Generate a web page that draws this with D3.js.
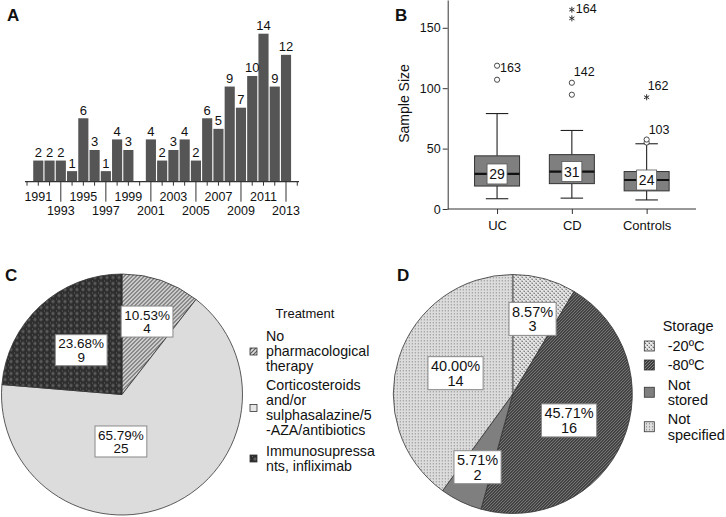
<!DOCTYPE html>
<html><head><meta charset="utf-8">
<script src="https://cdn.jsdelivr.net/npm/d3@7"></script>
<style>body{margin:0;background:#fff}svg{display:block;font-family:"Liberation Sans",Arial,sans-serif}</style>
</head><body><svg id="c" width="726" height="517"></svg>
<script>
// ---------- DATA ----------
// Panel A: publications per year
const yearsA = [1991,1992,1993,1994,1995,1996,1997,1998,1999,2000,2001,2002,2003,2004,2005,2006,2007,2008,2009,2010,2011,2012,2013];
const countsA = [2,2,2,1,6,3,1,4,3,0,4,2,3,4,2,6,5,9,7,10,14,9,12];
const yearLabelsRow1 = [1991,1995,1999,2003,2007,2011];
const yearLabelsRow2 = [1993,1997,2001,2005,2009,2013];

// Panel B: sample size box plots
const groupsB = ["UC","CD","Controls"];
const whiskLoB = [8.5,9,7.5];
const q1B = [19,21,15];
const medB = [29,31,24];
const q3B = [44,45,31];
const whiskHiB = [79,65,54];
const medLabelB = ["29","31","24"];
const outGroupB = ["UC","UC","CD","CD","CD","CD","Controls","Controls","Controls"];
const outValueB = [107,118.6,94.6,104.5,157.8,165,55,57.5,92.5];
const outTypeB  = ["o","o","o","o","*","*","o","o","*"];
const outLabelB = ["","163","","142","","164","","103","162"];
const yTicksB = [0,50,100,150];

// Panel C: treatment
const treatC = ["No pharmacological therapy","Corticosteroids and/or sulphasalazine/5-AZA/antibiotics","Immunosupressants, infliximab"];
const treatCLines = [["No","pharmacological","therapy"],["Corticosteroids","and/or","sulphasalazine/5","-AZA/antibiotics"],["Immunosupressa","nts, infliximab"]];
const countsC = [4,25,9];

// Panel D: storage
const storageD = ["-20ºC","-80ºC","Not stored","Not specified"];
const storageDLines = [["-20ºC"],["-80ºC"],["Not","stored"],["Not","specified"]];
const countsD = [3,16,2,14];

// ---------- DRAW ----------
const svg = d3.select("#c");
const TXT = "#111";
const defs = svg.append("defs");

function pat(id, w, h, build){
  const p = defs.append("pattern").attr("id",id).attr("patternUnits","userSpaceOnUse").attr("width",w).attr("height",h);
  build(p);
}
pat("hatchLight",4,4,p=>{
  p.append("rect").attr("width",4).attr("height",4).attr("fill","#dedede");
  p.append("path").attr("d","M-1,1L1,-1M0,4L4,0M3,5L5,3").attr("stroke","#555").attr("stroke-width",1.1);
});
pat("crossDark",6,6,p=>{
  p.append("rect").attr("width",6).attr("height",6).attr("fill","#2e2e2e");
  p.append("path").attr("d","M3,1L5,3L3,5L1,3Z").attr("fill","#5c5c5c");
  p.append("rect").attr("x",0).attr("y",0).attr("width",1).attr("height",1).attr("fill","#666");
});
pat("crossLight",4,4,p=>{
  p.append("rect").attr("width",4).attr("height",4).attr("fill","#c4c4c4");
  p.append("rect").attr("x",0).attr("y",0).attr("width",2).attr("height",2).attr("fill","#e8e8e8");
  p.append("rect").attr("x",2).attr("y",2).attr("width",2).attr("height",2).attr("fill","#e8e8e8");
  p.append("rect").attr("x",1).attr("y",3).attr("width",1).attr("height",1).attr("fill","#6a6a6a");
  p.append("rect").attr("x",3).attr("y",1).attr("width",1).attr("height",1).attr("fill","#6a6a6a");
});
pat("hatchDark",3,3,p=>{
  p.append("rect").attr("width",3).attr("height",3).attr("fill","#3e3e3e");
  p.append("path").attr("d","M-1,1L1,-1M0,3L3,0M2,4L4,2").attr("stroke","#8a8a8a").attr("stroke-width",0.9);
});
pat("dotsLight",3,3,p=>{
  p.append("rect").attr("width",3).attr("height",3).attr("fill","#dcdcdc");
  p.append("rect").attr("x",1).attr("y",0).attr("width",1).attr("height",1.5).attr("fill","#9a9a9a");
});

function letter(t,x,y){ svg.append("text").attr("x",x).attr("y",y).attr("font-size",17).attr("font-weight","bold").attr("fill",TXT).text(t); }
letter("A",7,21); letter("B",395,21); letter("C",5,281); letter("D",397,281);

// ---- Panel A ----
(function(){
  const axisYears = [1990, ...yearsA, 2014];
  const x = d3.scaleBand().domain(axisYears).range([21.4, 302.9]).paddingInner(0.1).paddingOuter(0.05);
  const y = d3.scaleLinear().domain([0,14]).range([181.7, 33.7]);
  const g = svg.append("g");
  const data = yearsA.map((yr,i)=>({yr, v:countsA[i]})).filter(d=>d.v>0);
  g.selectAll("rect.bar").data(data).join("rect").attr("class","bar")
    .attr("x",d=>x(d.yr)).attr("width",x.bandwidth())
    .attr("y",d=>y(d.v)).attr("height",d=>y(0)-y(d.v)).attr("fill","#555");
  g.selectAll("text.val").data(data).join("text").attr("class","val")
    .attr("x",d=>x(d.yr)+x.bandwidth()/2).attr("y",d=>y(d.v)-3.5)
    .attr("text-anchor","middle").attr("font-size",13).attr("fill",TXT).text(d=>d.v);
  g.append("line").attr("x1",25).attr("x2",299).attr("y1",y(0)).attr("y2",y(0)).attr("stroke","#333").attr("stroke-width",1.2);
  const cx = yr => x(yr)+x.bandwidth()/2;
  g.selectAll("line.tk").data(axisYears).join("line").attr("class","tk")
    .attr("x1",cx).attr("x2",cx).attr("y1",y(0)).attr("y2",d=>yearLabelsRow2.includes(d)? y(0)+20 : y(0)+4)
    .attr("stroke","#333").attr("stroke-width",1);
  g.selectAll("text.r1").data(yearLabelsRow1).join("text").attr("class","r1")
    .attr("x",cx).attr("y",200.5).attr("text-anchor","middle").attr("font-size",12.5).attr("fill",TXT).text(d=>d);
  g.selectAll("text.r2").data(yearLabelsRow2).join("text").attr("class","r2")
    .attr("x",cx).attr("y",214.5).attr("text-anchor","middle").attr("font-size",12.5).attr("fill",TXT).text(d=>d);
})();

// ---- Panel B ----
(function(){
  const y = d3.scaleLinear().domain([0,173]).range([209,0]);
  const x = d3.scalePoint().domain(groupsB).range([447.7,696]).padding(0.66);
  const g = svg.append("g");
  const ax = g.append("g").attr("transform","translate(447.7,0)")
    .call(d3.axisLeft(y).tickValues(yTicksB).tickSize(5).tickSizeOuter(0).tickPadding(2));
  ax.select(".domain").attr("stroke","#333");
  ax.selectAll(".tick line").attr("stroke","#333");
  ax.selectAll("text").attr("font-size",12.5).attr("fill",TXT).attr("font-family","Liberation Sans, Arial, sans-serif");
  const bx = g.append("g").attr("transform","translate(0,209)")
    .call(d3.axisBottom(x).tickSize(5).tickSizeOuter(0).tickPadding(7));
  bx.select(".domain").attr("stroke","#333").attr("d","M447.7,0H696");
  bx.selectAll(".tick line").attr("stroke","#333");
  bx.selectAll("text").attr("font-size",13).attr("fill",TXT).attr("font-family","Liberation Sans, Arial, sans-serif");
  g.append("text").attr("transform","translate(409,103.5) rotate(-90)").attr("text-anchor","middle")
    .attr("font-size",14).attr("fill",TXT).text("Sample Size");
  const bw = 45;
  groupsB.forEach((grp,i)=>{
    const c = x(grp);
    g.append("line").attr("x1",c).attr("x2",c).attr("y1",y(whiskHiB[i])).attr("y2",y(q3B[i])).attr("stroke","#222").attr("stroke-width",1.1);
    g.append("line").attr("x1",c).attr("x2",c).attr("y1",y(q1B[i])).attr("y2",y(whiskLoB[i])).attr("stroke","#222").attr("stroke-width",1.1);
    [whiskHiB[i], whiskLoB[i]].forEach(v=>g.append("line").attr("x1",c-bw/4).attr("x2",c+bw/4).attr("y1",y(v)).attr("y2",y(v)).attr("stroke","#222").attr("stroke-width",1.1));
    g.append("rect").attr("x",c-bw/2).attr("width",bw).attr("y",y(q3B[i])).attr("height",y(q1B[i])-y(q3B[i]))
      .attr("fill","#7f7f7f").attr("stroke","#333").attr("stroke-width",1);
    g.append("line").attr("x1",c-bw/2).attr("x2",c+bw/2).attr("y1",y(medB[i])).attr("y2",y(medB[i])).attr("stroke","#111").attr("stroke-width",2.2);
    g.append("rect").attr("x",c-10).attr("width",20).attr("y",y(medB[i])-10).attr("height",20)
      .attr("fill","#fff").attr("stroke","#555").attr("stroke-width",0.8);
    g.append("text").attr("x",c).attr("y",y(medB[i])+5).attr("text-anchor","middle").attr("font-size",14).attr("fill",TXT).text(medLabelB[i]);
  });
  const labOff = {"163":[3,6.5],"142":[2,-6.5],"164":[4,3],"103":[2,-5.5],"162":[1,-7.5]};
  const starPath = "M0,-3V3M-2.6,-1.5L2.6,1.5M-2.6,1.5L2.6,-1.5";
  outValueB.forEach((v,i)=>{
    const c = x(outGroupB[i]), yy = y(v);
    if(outTypeB[i]==="o"){
      g.append("circle").attr("cx",c).attr("cy",yy).attr("r",2.6).attr("fill","#fff").attr("stroke","#333").attr("stroke-width",0.9);
    } else {
      g.append("path").attr("transform",`translate(${c},${yy})`).attr("d",starPath).attr("stroke","#333").attr("stroke-width",1);
    }
    const lab = outLabelB[i];
    if(lab){
      const o = labOff[lab];
      g.append("text").attr("x",c+o[0]).attr("y",yy+o[1]).attr("font-size",12.5).attr("fill",TXT).text(lab);
    }
  });
})();

// ---- Pies ----
function pie(cfg){
  const g = svg.append("g").attr("transform",`translate(${cfg.cx},${cfg.cy})`);
  const arcs = d3.pie().sort(null).value(d=>d)(cfg.values);
  const arc = d3.arc().innerRadius(0).outerRadius(cfg.r);
  g.selectAll("path").data(arcs).join("path").attr("d",arc).attr("fill",(d,i)=>cfg.fills[i])
    .attr("stroke","#333").attr("stroke-width",0.8);
  const total = d3.sum(cfg.values);
  const fmt = d3.format(".2f");
  arcs.forEach((a,i)=>{
    const mid = (a.startAngle+a.endAngle)/2 + cfg.angAdj[i]*Math.PI/180;
    const rr = cfg.frac[i]*cfg.r;
    const px = rr*Math.sin(mid), py = -rr*Math.cos(mid);
    const lg = g.append("g");
    const rect = lg.append("rect");
    const t1 = lg.append("text").attr("x",px).attr("y",py-cfg.lh/2+cfg.fs*0.36).attr("text-anchor","middle").attr("font-size",cfg.fs).attr("fill",TXT).text(fmt(cfg.values[i]/total*100)+"%");
    lg.append("text").attr("x",px).attr("y",py+cfg.lh/2+cfg.fs*0.36).attr("text-anchor","middle").attr("font-size",cfg.fs).attr("fill",TXT).text(cfg.values[i]);
    const w = t1.node().getComputedTextLength()+6, h = cfg.lh*2+4;
    rect.attr("x",px-w/2).attr("y",py-h/2).attr("width",w).attr("height",h).attr("fill","#fff").attr("stroke","#8a8a8a").attr("stroke-width",1);
  });
}
pie({cx:122, cy:394.5, r:120.5, values:countsC, fills:["url(#hatchLight)","#dcdcdc","url(#crossDark)"],
     angAdj:[0,25,0], frac:[0.64,0.39,0.5], fs:13.5, lh:13.5});
pie({cx:512.8, cy:394, r:119.5, values:countsD, fills:["url(#crossLight)","url(#hatchDark)","#7f7f7f","url(#dotsLight)"],
     angAdj:[-0.7,2,0,2], frac:[0.65,0.52,0.68,0.51], fs:14.5, lh:14.5});

// ---- Legend C ----
(function(){
  const g = svg.append("g");
  const fills = ["url(#hatchLight)","#e6e6e6","url(#crossDark)"];
  g.append("text").attr("x",305).attr("y",318).attr("text-anchor","middle").attr("font-size",13).attr("fill",TXT).text("Treatment");
  const base = [341, 390, 455.5];
  treatCLines.forEach((lines,i)=>{
    lines.forEach((l,j)=>g.append("text").attr("x",266).attr("y",base[i]+j*15).attr("font-size",14.2).attr("fill",TXT).text(l));
    const mid = base[i] + (lines.length-1)*7.5 - 4.5;
    g.append("rect").attr("x",250).attr("y",mid-3.5).attr("width",7).attr("height",7).attr("fill",fills[i]).attr("stroke","#333").attr("stroke-width",0.8);
  });
})();

// ---- Legend D ----
(function(){
  const g = svg.append("g");
  const fills = ["url(#crossLight)","url(#hatchDark)","#7f7f7f","url(#dotsLight)"];
  g.append("text").attr("x",662.7).attr("y",331).attr("font-size",14.5).attr("fill",TXT).text("Storage");
  const base = [351, 370, 389.5, 424];
  storageDLines.forEach((lines,i)=>{
    lines.forEach((l,j)=>g.append("text").attr("x",667.7).attr("y",base[i]+j*15.5).attr("font-size",14.5).attr("fill",TXT).text(l));
    const mid = base[i] + (lines.length-1)*7.75 - 5;
    g.append("rect").attr("x",644.3).attr("y",mid-5).attr("width",10).attr("height",10).attr("fill",fills[i]).attr("stroke","#333").attr("stroke-width",0.8);
  });
})();
</script></body></html>
